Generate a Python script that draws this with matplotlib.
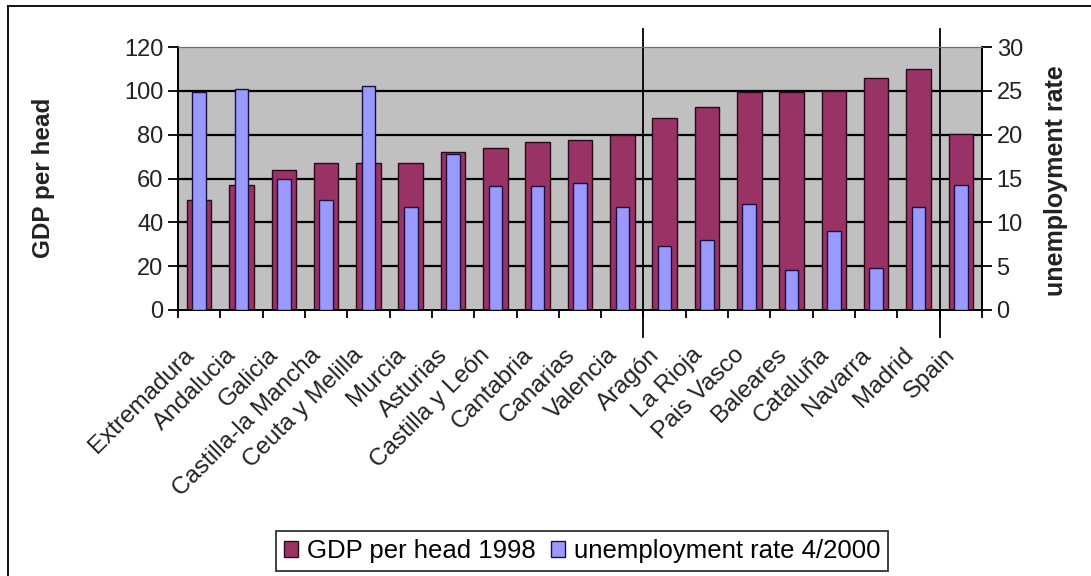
import matplotlib
matplotlib.use("Agg")
from matplotlib import pyplot as plt
from matplotlib.patches import Patch
from matplotlib.lines import Line2D
import matplotlib.transforms as mtransforms
import numpy as np

plt.rcParams['font.family'] = ['Liberation Sans', 'DejaVu Sans']

# data
regions = ['Extremadura', 'Andalucia', 'Galicia', 'Castilla-la Mancha', 'Ceuta y Melilla',
           'Murcia', 'Asturias', 'Castilla y León', 'Cantabria', 'Canarias', 'Valencia',
           'Aragón', 'La Rioja', 'Pais Vasco', 'Baleares', 'Cataluña', 'Navarra',
           'Madrid', 'Spain']
gdp_1998 = [50, 57, 64, 67, 67, 67, 72, 74, 76.5, 77.5, 80,
            87.5, 92.5, 99.5, 99.5, 100, 106, 110, 80.5]
unemp_2000 = [24.9, 25.2, 14.9, 12.6, 25.5, 11.7, 17.8, 14.1, 14.1, 14.5, 11.7,
              7.3, 8.0, 12.1, 4.6, 9.0, 4.8, 11.7, 14.3]
# group separators (between Valencia/Aragón and Madrid/Spain)
separators = [10.5, 17.5]

maroon = '#993366'
lilac = '#9999FF'
W, H = 1091, 576

fig = plt.figure(figsize=(W / 100, H / 100), dpi=100)
ax = fig.add_axes([178 / W, 1 - 310 / H, (982 - 178) / W, (310 - 47) / H])
ax2 = ax.twinx()

x = np.arange(len(regions))
ax.set_facecolor('#C0C0C0')
ax.bar(x, gdp_1998, width=0.58, color=maroon, edgecolor='#2a0a1a', linewidth=1.0, zorder=3)
ax2.bar(x, unemp_2000, width=0.32, color=lilac, edgecolor='#1a1040', linewidth=1.0, zorder=3)

ax.set_xlim(-0.5, len(regions) - 0.5)
ax.set_ylim(0, 120)
ax2.set_ylim(0, 30)
ax.set_yticks(np.arange(0, 121, 20))
ax2.set_yticks(np.arange(0, 31, 5))
for v in range(20, 101, 20):
    ax.axhline(v, color='black', lw=1.6, zorder=1)

ax.set_xticks(np.arange(-0.5, len(regions), 1.0))
ax.set_xticklabels([])
# rotated labels sit a little left of the bar centres, like Excel does
ax.set_xticks(x - 0.2, minor=True)
ax.set_xticklabels(regions, minor=True, rotation=45, ha='right', va='center',
                   rotation_mode='anchor', fontsize=17.5, color='#222222')
ax.tick_params(axis='x', which='minor', length=0, pad=30)
ax.tick_params(axis='x', which='major', length=6, width=1.3, direction='out')
ax.tick_params(axis='y', labelsize=17, length=7, width=1.3, colors='black', labelcolor='#222222')
ax2.tick_params(axis='y', labelsize=17, length=7, width=1.3, colors='black', labelcolor='#222222')

for a in (ax, ax2):
    a.spines['top'].set_color('#6e6e6e')
    a.spines['left'].set_linewidth(1.3)
    a.spines['right'].set_linewidth(1.3)
    a.spines['bottom'].set_linewidth(1.3)
ax2.patch.set_visible(False)

fig.text(44 / W, 1 - 178 / H, 'GDP per head', rotation=90, ha='center', va='center',
         fontsize=17.5, fontweight='bold', color='#222222')
fig.text(1056 / W, 1 - 181 / H, 'unemployment rate', rotation=90, ha='center', va='center',
         fontsize=18, fontweight='bold', color='#222222')

# long vertical separators
trans = mtransforms.blended_transform_factory(ax.transData, fig.transFigure)
for s in separators:
    ax.add_line(Line2D([s, s], [1 - 29 / H, 1 - 337 / H], transform=trans,
                       color='black', lw=1.3, clip_on=False, zorder=5))

handles = [Patch(facecolor=maroon, edgecolor='#2a0a1a', label='GDP per head 1998'),
           Patch(facecolor=lilac, edgecolor='#1a1040', label='unemployment rate 4/2000')]
leg = fig.legend(handles=handles, loc='center', bbox_to_anchor=(582 / W, 1 - 551 / H),
                 ncol=2, fontsize=18.5, frameon=True, fancybox=False, handlelength=0.55,
                 handleheight=0.55, handletextpad=0.35, columnspacing=0.6,
                 borderpad=0.3, edgecolor='black')
leg.get_frame().set_linewidth(1.3)

# outer frame (top and left edges visible)
fig.add_artist(Line2D([8 / W, 1.0], [1 - 6 / H, 1 - 6 / H], transform=fig.transFigure,
                      color='black', lw=1.3))
fig.add_artist(Line2D([8 / W, 8 / W], [0.0, 1 - 6 / H], transform=fig.transFigure,
                      color='black', lw=1.3))

fig.savefig('out.png', dpi=100)
